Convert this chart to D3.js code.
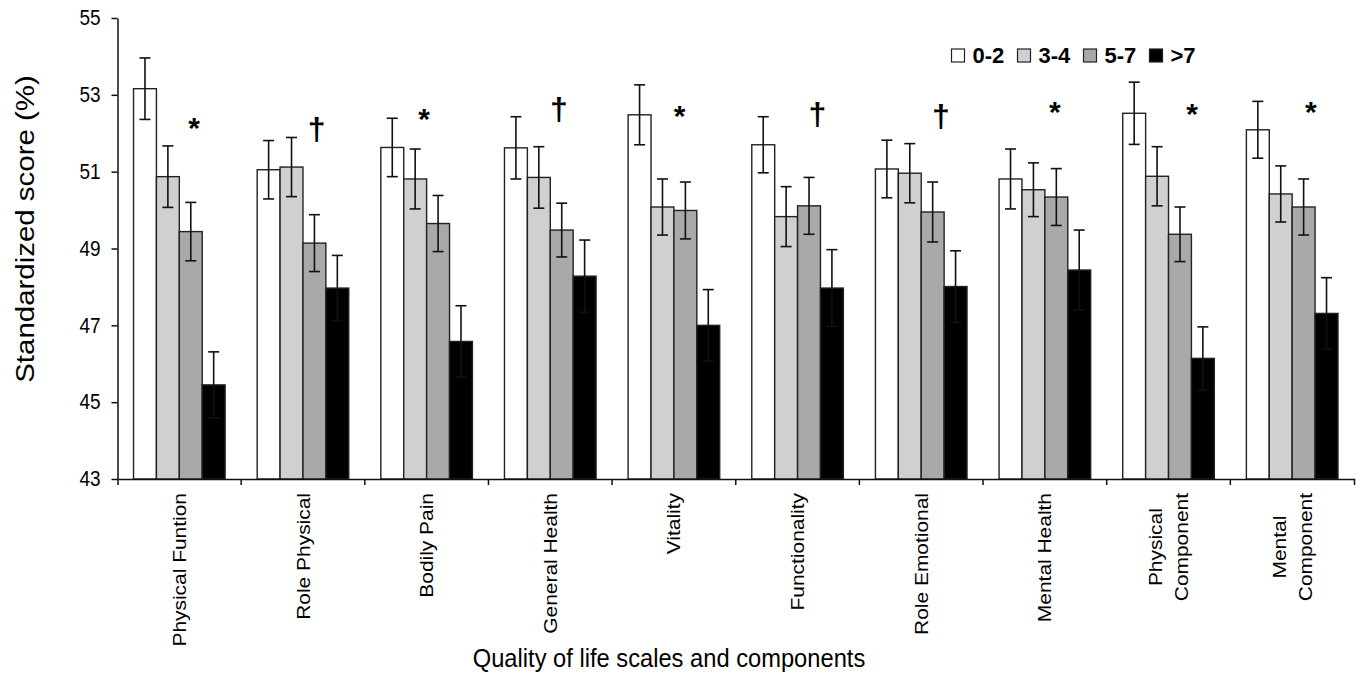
<!DOCTYPE html>
<html>
<head>
<meta charset="utf-8">
<script src="https://cdn.jsdelivr.net/npm/d3@7/dist/d3.min.js"></script>
<style>
    body { margin: 0; background: #fff; }
    svg text { font-family: "Liberation Sans", Arial, sans-serif; fill: #000; }
</style>
</head>
<body>
<svg id="chart" width="1366" height="679"></svg>
<script>
// categories on the x axis ("\n" breaks a label in two lines)
const categories = ["Physical Funtion", "Role Physical", "Bodily Pain", "General Health", "Vitality",
    "Functionality", "Role Emotional", "Mental Health", "Physical\nComponent", "Mental\nComponent"];
const groups = ["0-2", "3-4", "5-7", ">7"];

// mean standardized score per group
const score02 = [53.16, 51.05, 51.63, 51.62, 52.48, 51.70, 51.07, 50.81, 52.52, 52.09];
const score34 = [50.87, 51.12, 50.81, 50.85, 50.08, 49.83, 50.96, 50.53, 50.88, 50.42];
const score57 = [49.44, 49.14, 49.65, 49.48, 49.99, 50.11, 49.95, 50.34, 49.37, 50.08];
const score7p = [45.45, 47.97, 46.58, 48.28, 47.00, 47.97, 48.01, 48.44, 46.14, 47.31];

// half width of the error bars
const err02 = [0.80, 0.76, 0.76, 0.81, 0.78, 0.73, 0.75, 0.78, 0.81, 0.74];
const err34 = [0.80, 0.77, 0.78, 0.80, 0.73, 0.78, 0.77, 0.70, 0.77, 0.73];
const err57 = [0.76, 0.74, 0.73, 0.70, 0.74, 0.74, 0.78, 0.74, 0.71, 0.73];
const err7p = [0.86, 0.85, 0.93, 0.94, 0.93, 1.00, 0.93, 1.04, 0.82, 0.93];

// significance markers
const marks = ["*", "\u2020", "*", "\u2020", "*", "\u2020", "\u2020", "*", "*", "*"];
const markLevel = [52.32, 52.04, 52.57, 52.58, 52.63, 52.43, 52.39, 52.74, 52.70, 52.74];

const yTicks = [43, 45, 47, 49, 51, 53, 55];

const scores = [score02, score34, score57, score7p];
const errors = [err02, err34, err57, err7p];
const colors = ["#ffffff", "#d0d0d0", "#a9a9a9", "#000000"];
// where the marker sits inside its group (fraction of the group width)
const markSpot = [0.62, 0.61, 0.48, 0.57, 0.545, 0.66, 0.66, 0.58, 0.69, 0.65];

const svg = d3.select("#chart");
const plotLeft = 117.5, plotRight = 1354, plotTop = 18, plotBottom = 479;
// the source figure is a little taller than wide, so text is stretched along the page height
const stretch = 1.12;

const x0 = d3.scaleBand().domain(categories).range([plotLeft, plotRight]).padding(0);
const x1 = d3.scaleBand().domain(groups).range([0, x0.bandwidth()])
    .paddingInner(0).paddingOuter(0.7);
const y = d3.scaleLinear().domain([43, 55]).range([plotBottom, plotTop]);

// flatten data
let cells = [];
categories.forEach((c, i) => {
    groups.forEach((g, j) => {
        cells.push({cat: c, group: g, value: scores[j][i], err: errors[j][i], color: colors[j]});
    });
});

// bars
svg.append("g").selectAll("rect")
    .data(cells)
    .enter().append("rect")
    .attr("x", d => x0(d.cat) + x1(d.group))
    .attr("y", d => y(d.value))
    .attr("width", x1.bandwidth())
    .attr("height", d => y(43) - y(d.value))
    .attr("fill", d => d.color)
    .attr("stroke", "#222")
    .attr("stroke-width", 1.4);

// error bars
const capHalf = 5.5;
const eb = svg.append("g").attr("stroke", "#111").attr("stroke-width", 1.6);
cells.forEach(d => {
    const cx = x0(d.cat) + x1(d.group) + x1.bandwidth() / 2;
    const y1 = y(d.value + d.err), y2 = y(d.value - d.err);
    eb.append("line").attr("x1", cx).attr("x2", cx).attr("y1", y1).attr("y2", y2);
    eb.append("line").attr("x1", cx - capHalf).attr("x2", cx + capHalf).attr("y1", y1).attr("y2", y1);
    eb.append("line").attr("x1", cx - capHalf).attr("x2", cx + capHalf).attr("y1", y2).attr("y2", y2);
});

// y axis
const yAxis = svg.append("g")
    .attr("transform", "translate(" + plotLeft + ",0)")
    .call(d3.axisLeft(y).tickValues(yTicks).tickSize(6).tickSizeOuter(0).tickPadding(11));
yAxis.selectAll("path, line").attr("stroke", "#111").attr("stroke-width", 1.5);
yAxis.selectAll("text")
    .style("font-size", "19px")
    .attr("transform", "scale(1," + stretch + ")");

// x axis line with ticks between groups
const xAxis = svg.append("g")
    .attr("transform", "translate(0," + plotBottom + ")")
    .call(d3.axisBottom(x0).tickSize(0).tickSizeOuter(6).tickFormat(""));
xAxis.selectAll("path").attr("stroke", "#111").attr("stroke-width", 1.5);
xAxis.selectAll(".tick").remove();
xAxis.selectAll(".sep")
    .data(categories.slice(1))
    .enter().append("line")
    .attr("x1", d => x0(d)).attr("x2", d => x0(d))
    .attr("y1", 0).attr("y2", 6)
    .attr("stroke", "#111").attr("stroke-width", 1.5);

// category labels, rotated, top aligned as a block
const lineGap = 26;
categories.forEach(c => {
    const lines = c.split("\n");
    const cx = x0(c) + x0.bandwidth() / 2;
    const g = svg.append("g");
    const texts = lines.map(t => g.append("text")
        .style("font-size", "18.7px")
        .attr("text-anchor", "middle")
        .attr("dy", "0.35em")
        .text(t));
    const maxLen = d3.max(texts, t => t.node().getComputedTextLength()) * stretch;
    texts.forEach((t, k) => {
        const off = (k - (lines.length - 1) / 2) * lineGap;
        t.attr("transform", "translate(" + (cx + off) + "," + (plotBottom + 14 + maxLen / 2) + ") rotate(-90) scale(" + stretch + ",1)");
    });
});

// significance markers
svg.append("g").selectAll("text")
    .data(marks)
    .enter().append("text")
    .attr("x", (d, i) => x0(categories[i]) + x0.bandwidth() * markSpot[i])
    .attr("y", (d, i) => y(markLevel[i]))
    .attr("dy", d => d === "*" ? "0.58em" : "0.27em")
    .attr("text-anchor", "middle")
    .style("font-size", d => d === "*" ? "30px" : "32px")
    .style("font-weight", "bold")
    .text(d => d);

// legend
const legend = svg.append("g").attr("transform", "translate(951.5,49)");
groups.forEach((g, j) => {
    const item = legend.append("g").attr("transform", "translate(" + (j * 66) + ",0)");
    item.append("rect")
        .attr("width", 13).attr("height", 13)
        .attr("fill", colors[j]).attr("stroke", "#222").attr("stroke-width", 1.2);
    item.append("text")
        .attr("x", 21).attr("y", 14)
        .style("font-size", "22px").style("font-weight", "bold")
        .text(g);
});

// axis titles
svg.append("text")
    .attr("transform", "translate(25,229) rotate(-90) scale(" + stretch + ",1)")
    .attr("text-anchor", "middle")
    .attr("dy", "0.35em")
    .style("font-size", "26.3px")
    .text("Standardized score (%)");

svg.append("text")
    .attr("transform", "translate(669,667) scale(1," + stretch + ")")
    .attr("text-anchor", "middle")
    .style("font-size", "23.7px")
    .text("Quality of life scales and components");
</script>
</body>
</html>
